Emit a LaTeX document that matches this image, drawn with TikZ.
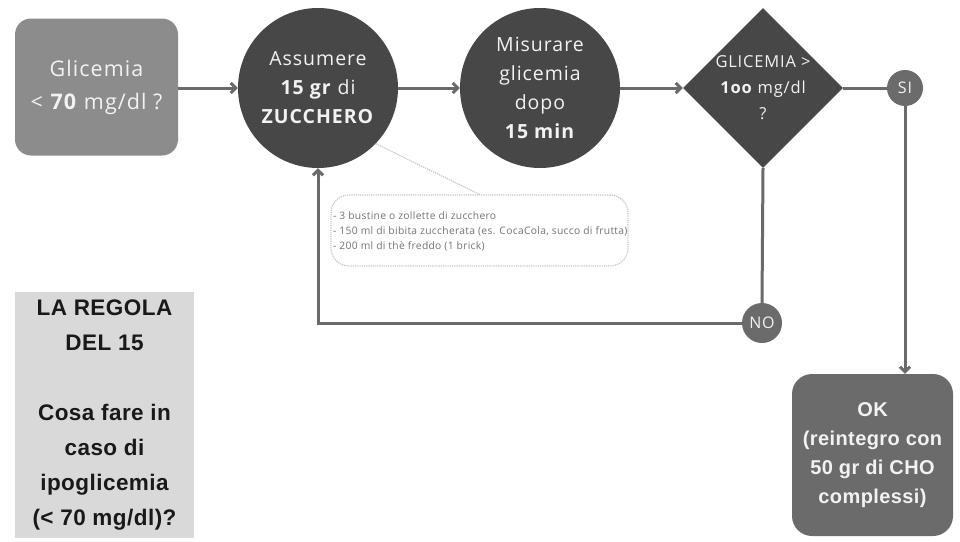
\documentclass[tikz,border=0pt]{standalone}
\usepackage{fontspec}
\setmainfont{Open Sans}[LetterSpace=5]
\newfontfamily\boxfont{Liberation Sans}[LetterSpace=2]
\newfontfamily\notefont{Open Sans}[LetterSpace=3]
\usetikzlibrary{shapes.geometric,arrows.meta}
\definecolor{dark}{HTML}{474747}
\definecolor{mid}{HTML}{6B6B6B}
\definecolor{lightg}{HTML}{8C8C8C}
\definecolor{panel}{HTML}{D9D9D9}
\definecolor{ln}{HTML}{6A6A6A}
\definecolor{txtw}{HTML}{F2F2F2}
\tikzset{
  flow/.style={draw=ln,line width=3pt,-{Straight Barb[length=5pt,width=10pt]}},
  plain/.style={draw=ln,line width=3pt},
  circ/.style={circle,fill=dark,minimum size=160pt,inner sep=0pt,text=txtw,align=center,font=\fontsize{19.5}{29}\selectfont},
  small/.style={circle,fill=mid,inner sep=0pt,text=txtw,font=\fontsize{16}{18}\selectfont},
}
\begin{document}
\begin{tikzpicture}[x=1pt,y=-1pt]
\useasboundingbox[fill=white] (0,0) rectangle (960,541);
% start box
\node[fill=lightg,rounded corners=16pt,minimum width=163pt,minimum height=137pt,text=txtw,align=center,font=\fontsize{21.5}{33}\selectfont] (start) at (96.5,87) {Glicemia\\ < \textbf{70} mg/dl ?};
\node[circ] (take) at (318,88) {Assumere\\ \textbf{15 gr} di\\ \textbf{ZUCCHERO}};
\node[circ] (meas) at (540,88) {Misurare\\ glicemia\\ dopo\\ \textbf{15 min}};
\node[diamond,fill=dark,minimum width=160pt,minimum height=160pt,inner sep=0pt,aspect=1,text=txtw,align=center,font=\fontsize{16.5}{26}\selectfont] (dec) at (763,88) {GLICEMIA >\\ \textbf{1oo} mg/dl\\ ?};
\node[small,minimum size=36pt] (si) at (905,88) {SI};
\node[small,minimum size=40pt] (no) at (762,323) {NO};
\node[fill=mid,rounded corners=20pt,minimum width=161pt,minimum height=162pt,text=txtw,align=center,font=\boxfont\bfseries\fontsize{20}{29}\selectfont] (ok) at (872.5,455) {OK\\ (reintegro con\\ 50 gr di CHO\\ complessi)};
\node[fill=panel,minimum width=179pt,minimum height=246pt,text=black!90,align=center,font=\boxfont\bfseries\fontsize{22.5}{35}\selectfont] (rule) at (104.5,415) {LA REGOLA\\ DEL 15\\[35pt] Cosa fare in\\ caso di\\ ipoglicemia\\ (< 70 mg/dl)?};
% callout
\node[draw=black!22,densely dotted,line width=1.2pt,rounded corners=18pt,minimum width=297pt,minimum height=71pt] (call) at (479.5,230.5) {};
\node[anchor=west,align=left,text=black!55,font=\notefont\fontsize{10.3}{15}\selectfont,inner sep=0pt] (calltxt) at (333,231) {- 3 bustine o zollette di zucchero\\ - 150 ml di bibita zuccherata (es. CocaCola, succo di frutta)\\ - 200 ml di thè freddo (1 brick)};
\draw[draw=black!22,densely dotted,line width=1.2pt] (take.-44) -- (call.north);
% connectors
\draw[flow] (start.east |- take.west) -- (take.west);
\draw[flow] (take.east) -- (meas.west);
\draw[flow] (meas.east) -- (dec.west);
\draw[plain] (dec.east) -- (si.west);
\draw[flow] (si.south) -- (si.south |- ok.north);
\draw[plain] (dec.south) -- (no.north);
\draw[flow] (no.west) -| (take.south);
\end{tikzpicture}
\end{document}
